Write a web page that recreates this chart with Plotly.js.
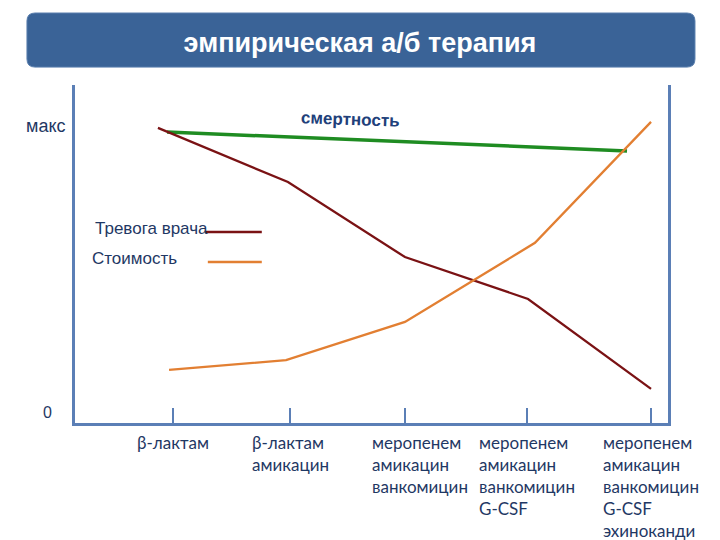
<!DOCTYPE html>
<html>
<head>
<meta charset="utf-8">
<script src="https://cdn.plot.ly/plotly-3.0.1.min.js"></script>
<style>html,body{margin:0;padding:0;background:#fff}#chart{width:720px;height:540px}</style>
</head>
<body>
<div id="chart"></div>
<script>
// ---- data ----
const titleText = 'эмпирическая а/б терапия';
const stageLabels = [
  'β-лактам',
  'β-лактам<br>амикацин',
  'меропенем<br>амикацин<br>ванкомицин',
  'меропенем<br>амикацин<br>ванкомицин<br>G-CSF',
  'меропенем<br>амикацин<br>ванкомицин<br>G-CSF<br>эхиноканди'
];
const stagePos = [1, 1.979, 2.941, 3.962, 5];

const anxietyName = 'Тревога врача';
const anxietyX = [0.874, 1.962, 2.941, 3.971, 5.0];
const anxietyY = [87.3, 71.3, 49.1, 36.7, 10.1];

const costName = 'Стоимость';
const costX = [0.967, 1.946, 2.941, 4.029, 5.0];
const costY = [15.7, 18.6, 29.9, 53.3, 89.1];

const mortalityName = 'смертность';
const mortalityX = [0.950, 4.799];
const mortalityY = [86.1, 80.5];

const yLabels = ['макс', '0'];

// ---- styles ----
const axisColor = '#5b7fb6';
const textColor = '#1f3864';
const anxietyColor = '#7a1214';
const costColor = '#e27f32';
const mortalityColor = '#1f8c22';
const labelShift = [0, 0, 15, 0, 0];

const traces = [
  {x: mortalityX, y: mortalityY, mode: 'lines', name: mortalityName,
   line: {color: mortalityColor, width: 3.5}},
  {x: anxietyX, y: anxietyY, mode: 'lines', name: anxietyName,
   line: {color: anxietyColor, width: 2.3}},
  {x: costX, y: costY, mode: 'lines', name: costName,
   line: {color: costColor, width: 2.3}}
];

const annotations = stageLabels.map((t, i) => ({
  text: t, x: stagePos[i], xref: 'x', y: -0.02, yref: 'paper',
  xanchor: 'center', yanchor: 'top', align: 'left', showarrow: false,
  xshift: labelShift[i],
  font: {family: 'Lato, sans-serif', size: 17, color: textColor}
}));
annotations.push(
  {text: yLabels[0], x: -0.0135, y: 0.879, xref: 'paper', yref: 'paper', xanchor: 'right', yanchor: 'middle',
   showarrow: false, font: {family: 'Liberation Sans, Arial', size: 18, color: textColor}},
  {text: yLabels[1], x: -0.047, y: 0.0325, xref: 'paper', yref: 'paper', xanchor: 'center', yanchor: 'middle',
   showarrow: false, font: {family: 'Liberation Sans, Arial', size: 16, color: textColor}},
  {text: anxietyName, x: 0.0304, y: 0.574, xref: 'paper', yref: 'paper', xanchor: 'left', yanchor: 'middle',
   showarrow: false, font: {family: 'Liberation Sans, Arial', size: 17, color: textColor}},
  {text: costName, x: 0.0253, y: 0.488, xref: 'paper', yref: 'paper', xanchor: 'left', yanchor: 'middle',
   showarrow: false, font: {family: 'Liberation Sans, Arial', size: 17, color: textColor}},
  {text: '<b>' + mortalityName + '</b>', x: 0.464, y: 0.899, xref: 'paper', yref: 'paper', xanchor: 'center', yanchor: 'middle',
   textangle: 2, showarrow: false, font: {family: 'Liberation Sans, Arial', size: 17, color: '#21407a'}}
);

// rounded banner in paper coords
const bx0 = -0.081, bx1 = 1.0455, by0 = 1.053, by1 = 1.213, rx = 0.0135, ry = 0.0237;
const bannerPath = `M ${bx0+rx},${by0} L ${bx1-rx},${by0} Q ${bx1},${by0} ${bx1},${by0+ry} L ${bx1},${by1-ry} Q ${bx1},${by1} ${bx1-rx},${by1} L ${bx0+rx},${by1} Q ${bx0},${by1} ${bx0},${by1-ry} L ${bx0},${by0+ry} Q ${bx0},${by0} ${bx0+rx},${by0} Z`;

const shapes = [
  {type: 'path', path: bannerPath, xref: 'paper', yref: 'paper',
   fillcolor: '#3a6397', line: {color: '#5a7fae', width: 1}},
  {type: 'line', xref: 'paper', yref: 'paper', x0: 0.219, x1: 0.315, y0: 0.565, y1: 0.565,
   line: {color: anxietyColor, width: 2.5}},
  {type: 'line', xref: 'paper', yref: 'paper', x0: 0.224, x1: 0.315, y0: 0.476, y1: 0.476,
   line: {color: costColor, width: 2.5}}
];

const layout = {
  width: 720, height: 540,
  margin: {l: 75, r: 52, t: 85, b: 117},
  paper_bgcolor: '#ffffff', plot_bgcolor: '#ffffff',
  showlegend: false,
  title: {text: '<b>' + titleText + '</b>', xref: 'container', x: 0.5, xanchor: 'center',
          yref: 'container', y: 0.922, yanchor: 'middle',
          font: {family: 'Liberation Sans, Arial', size: 27, color: '#ffffff'}},
  xaxis: {range: [0.18, 5.142], showgrid: false, zeroline: false,
          showline: true, linecolor: axisColor, linewidth: 3,
          tickvals: stagePos, ticks: 'inside', ticklen: 15, tickwidth: 2.5, tickcolor: axisColor,
          showticklabels: false, fixedrange: true},
  yaxis: {range: [0, 100], showgrid: false, zeroline: false,
          showline: true, mirror: true, linecolor: axisColor, linewidth: 3,
          ticks: '', showticklabels: false, fixedrange: true},
  annotations: annotations,
  shapes: shapes
};

Plotly.newPlot('chart', traces, layout, {displayModeBar: false, staticPlot: true});
</script>
</body>
</html>
